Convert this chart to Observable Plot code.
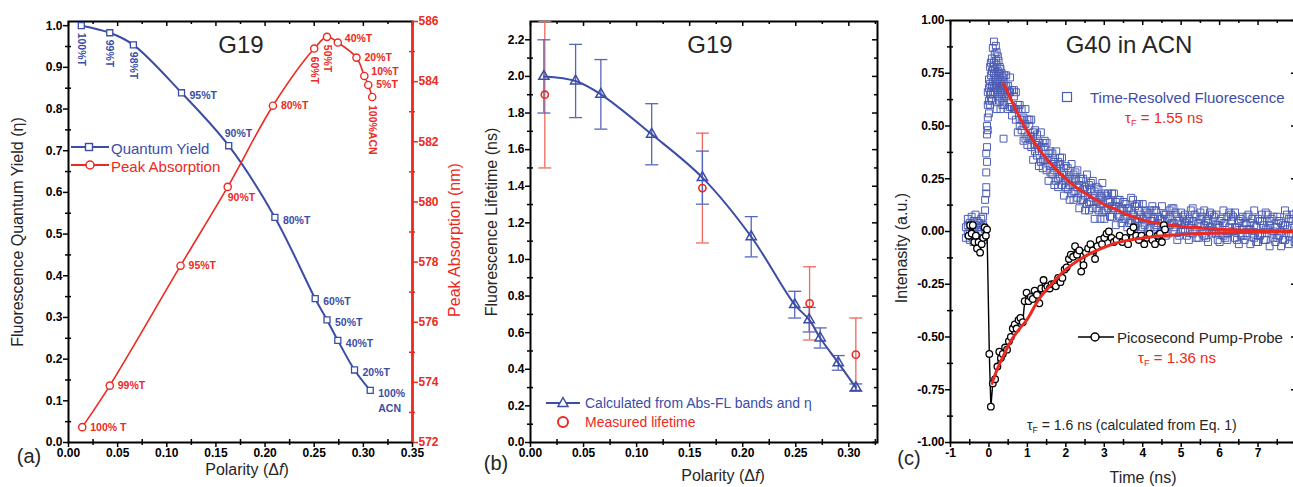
<!DOCTYPE html>
<html><head><meta charset="utf-8">
<script src="https://cdn.jsdelivr.net/npm/d3@7"></script>
<script src="https://cdn.jsdelivr.net/npm/@observablehq/plot@0.6"></script>
<style>
html,body{margin:0;padding:0;background:#fff;overflow:hidden;}
#wrap{position:relative;width:1293px;height:487px;overflow:hidden;font-family:"Liberation Sans",Arial,sans-serif;background:#fff;}
.panel{position:absolute;top:0;height:487px;}
.panel svg{position:absolute;left:0;top:0;max-width:none;}
.tx{position:absolute;white-space:nowrap;line-height:1;}
.tx sub{font-size:0.62em;vertical-align:-0.35em;line-height:0;}
</style></head>
<body><div id="wrap"></div>
<script>
// ---------------- DATA ----------------
// Panel (a): G19 quantum yield vs polarity
const qyPolarity = [0.013, 0.042, 0.066, 0.115, 0.163, 0.210, 0.251, 0.263, 0.274, 0.291, 0.307];
const qyValue    = [1.000, 0.983, 0.954, 0.839, 0.712, 0.540, 0.345, 0.294, 0.245, 0.174, 0.125];
const qyLabel    = ["100%T","99%T","98%T","95%T","90%T","80%T","60%T","50%T","40%T","20%T","100%\nACN"];
const qyLabelPos = ["rot","rot","rot","right","above","right","right","right","right","right","right"];
// Panel (a): peak absorption (nm)
const absPolarity = [0.014, 0.042, 0.114, 0.162, 0.208, 0.250, 0.263, 0.274, 0.293, 0.301, 0.305, 0.309];
const absPeak     = [572.51, 573.89, 577.88, 580.50, 583.20, 585.10, 585.49, 585.30, 584.80, 584.19, 583.89, 583.49];
const absLabel    = ["100% T","99%T","95%T","90%T","80%T","60%T","50%T","40%T","20%T","10%T","5%T","100%ACN"];
const absLabelPos = ["right","right","right","below","right","rot","rot","rightUp","right","rightUp","right","rot"];
// Panel (b): lifetimes
const calcPolarity = [0.0126, 0.0425, 0.0663, 0.1142, 0.162, 0.208, 0.249, 0.2626, 0.273, 0.290, 0.3066];
const calcLifetime = [2.000, 1.975, 1.902, 1.684, 1.447, 1.124, 0.753, 0.671, 0.571, 0.435, 0.300];
const calcError    = [0.200, 0.200, 0.190, 0.167, 0.145, 0.110, 0.073, 0.067, 0.055, 0.040, 0.020];
const measPolarity = [0.0135, 0.162, 0.263, 0.3066];
const measLifetime = [1.90, 1.39, 0.76, 0.48];
const measError    = [0.40, 0.30, 0.20, 0.20];
// Panel (c): time-resolved fluorescence (time, several readings)
const tfBins = [
[-0.60,0.02,-0.03],[-0.55,0.06,-0.01,0.03],[-0.50,-0.04,0.04,0.00],[-0.45,0.07,-0.02,0.02],
[-0.40,0.01,-0.05,0.05],[-0.35,0.03,-0.02,0.08],[-0.30,-0.06,0.02,0.05],[-0.25,0.04,-0.03,0.00],
[-0.20,0.06,-0.01,0.02],[-0.15,-0.04,0.03,0.07],[-0.10,0.01,0.10,0.15],[-0.07,0.21,0.28,0.37,0.18],
[-0.05,0.33,0.40,0.46,0.50],[-0.03,0.54,0.60,0.48,0.66],[0.00,0.68,0.72,0.62,0.56],[0.03,0.70,0.65,0.78,0.60],
[0.05,0.74,0.66,0.80,0.63],[0.08,0.82,0.69,0.76,0.62],[0.10,0.78,0.87,0.71,0.65],[0.13,0.75,0.90,0.68,0.80],
[0.15,0.84,0.72,0.66,0.77],[0.18,0.88,0.74,0.69,0.81],[0.20,0.79,0.70,0.85,0.58],[0.23,0.76,0.67,0.83,0.72],
[0.25,0.81,0.71,0.64,0.75],[0.28,0.74,0.68,0.78,0.62],[0.30,0.72,0.66,0.77,0.58],[0.33,0.70,0.63,0.75,0.68],
[0.35,0.73,0.65,0.60,0.69],[0.38,0.67,0.62,0.71,0.44],[0.40,0.69,0.64,0.74,0.60],
[0.45,0.74,0.64,0.69],[0.50,0.58,0.69,0.65],[0.55,0.66,0.73,0.59],[0.60,0.59,0.67,0.55],
[0.65,0.67,0.58,0.64],[0.70,0.53,0.58,0.66],[0.75,0.60,0.47,0.58],[0.80,0.53,0.60,0.50],
[0.85,0.58,0.48,0.53],[0.90,0.43,0.54,0.50],[0.95,0.51,0.58,0.44],[1.00,0.45,0.53,0.41],
[1.05,0.53,0.44,0.50],[1.10,0.40,0.45,0.53],[1.15,0.47,0.34,0.45],[1.20,0.41,0.48,0.38],
[1.25,0.46,0.36,0.41],[1.30,0.31,0.42,0.38],[1.35,0.40,0.47,0.33],[1.40,0.34,0.42,0.30],
[1.45,0.43,0.34,0.40],[1.50,0.29,0.34,0.42],[1.55,0.37,0.24,0.35],[1.60,0.31,0.38,0.28],
[1.65,0.37,0.27,0.32],[1.70,0.22,0.33,0.29],[1.75,0.31,0.38,0.24],[1.80,0.25,0.33,0.21],
[1.85,0.35,0.26,0.32],[1.90,0.22,0.27,0.35],[1.95,0.30,0.17,0.28],[2.00,0.24,0.31,0.21],
[2.05,0.30,0.20,0.25],[2.10,0.15,0.26,0.22],[2.15,0.25,0.32,0.18],[2.20,0.19,0.27,0.15],
[2.25,0.28,0.19,0.25],[2.30,0.16,0.21,0.29],[2.35,0.24,0.11,0.22],[2.40,0.18,0.25,0.15],
[2.45,0.25,0.15,0.20],[2.50,0.10,0.21,0.17],[2.55,0.20,0.27,0.13],[2.60,0.14,0.22,0.10],
[2.65,0.23,0.14,0.20],[2.70,0.11,0.16,0.24],[2.75,0.19,0.06,0.17],[2.80,0.14,0.21,0.11],
[2.85,0.20,0.10,0.15],[2.90,0.06,0.17,0.13],[2.95,0.16,0.23,0.09],[3.00,0.10,0.18,0.06],
[3.1,0.18,0.11,0.15],[3.2,0.07,0.12,0.18],[3.3,0.14,0.03,0.12],[3.4,0.10,0.15,0.07],
[3.5,0.14,0.06,0.10],[3.6,0.02,0.11,0.08],[3.7,0.10,0.16,0.04],[3.8,0.05,0.12,0.02],
[3.9,0.13,0.06,0.10],[4.0,0.02,0.06,0.13],[4.1,0.09,-0.02,0.07],[4.2,0.05,0.10,0.02],
[4.3,0.10,0.02,0.06],[4.4,-0.02,0.07,0.04],[4.5,0.06,0.12,0.00],[4.6,0.02,0.08,-0.02],
[4.7,0.10,0.03,0.07],[4.8,0.00,0.04,0.11],[4.9,0.07,-0.04,0.05],[5.0,0.03,0.09,0.00],
[5.1,0.08,0.00,0.04],[5.2,-0.04,0.06,0.03],[5.3,0.05,0.11,-0.01],[5.4,0.00,0.07,-0.03],
[5.5,0.09,0.02,0.06],[5.6,-0.02,0.03,0.10],[5.7,0.06,-0.05,0.04],[5.8,0.02,0.08,-0.01],
[5.9,0.08,-0.01,0.03],[6.0,-0.05,0.05,0.02],[6.1,0.04,0.10,-0.02],[6.2,-0.01,0.07,-0.04],
[6.3,0.08,0.00,0.05],[6.4,-0.03,0.02,0.09],[6.5,0.05,-0.06,0.04],[6.6,0.01,0.07,-0.02],
[6.7,0.07,-0.02,0.03],[6.8,-0.06,0.04,0.01],[6.9,0.03,0.10,-0.03],[7.0,-0.02,0.06,-0.05],
[7.1,0.08,-0.01,0.05],[7.2,-0.04,0.01,0.09],[7.3,0.05,-0.07,0.03],[7.4,0.00,0.07,-0.03],
[7.5,0.07,-0.03,0.02],[7.6,-0.07,0.04,0.00],[7.7,0.03,0.10,-0.04],[7.8,-0.02,0.06,-0.06],
[7.9,0.08,-0.01,0.05],[8.0,-0.04,0.01,0.09],
[3.05,0.17,0.10],[3.15,0.07,0.14],[3.25,0.18,0.11],[3.35,0.08,0.15],[3.45,0.11,0.04],
[3.55,0.13,0.06],[3.65,0.04,0.11],[3.75,0.15,0.08],[3.85,0.06,0.13],[3.95,0.08,0.01],
[4.05,0.10,0.03],[4.15,0.01,0.08],[4.25,0.12,0.05],[4.35,0.03,0.10],[4.45,0.06,-0.01],
[4.55,0.08,0.01],[4.65,-0.01,0.06],[4.75,0.11,0.04],[4.85,0.02,0.09],[4.95,0.05,-0.02],
[5.05,0.07,0.00],[5.15,-0.02,0.05],[5.25,0.10,0.03],[5.35,0.01,0.08],[5.45,0.04,-0.03],
[5.55,0.07,-0.01],[5.65,-0.03,0.05],[5.75,0.09,0.02],[5.85,0.00,0.07],[5.95,0.03,-0.04],
[6.05,0.06,-0.01],[6.15,-0.03,0.04],[6.25,0.09,0.02],[6.35,0.00,0.07],[6.45,0.02,-0.04],
[6.55,0.06,-0.02],[6.65,-0.04,0.04],[6.75,0.08,0.01],[6.85,-0.01,0.06],[6.95,0.02,-0.05],
[7.05,0.05,-0.02],[7.15,-0.04,0.03],[7.25,0.08,0.01],[7.35,-0.01,0.06],[7.45,0.02,-0.05],
[7.55,0.05,-0.02],[7.65,-0.04,0.03],[7.75,0.08,0.01],[7.85,-0.01,0.06],[7.95,0.02,-0.05]
];
const tfFitTime = [0.38,0.5,0.6,0.8,1.0,1.2,1.4,1.6,1.8,2.0,2.2,2.4,2.6,2.8,3.0,3.3,3.6,3.9,4.2,4.6,5.0,5.5,6.0,6.5,7.0,7.5,8.0];
const tfFitVal  = [0.70,0.656,0.615,0.541,0.475,0.418,0.367,0.323,0.284,0.249,0.219,0.193,0.170,0.149,0.127,0.105,0.080,0.060,0.045,0.033,0.024,0.017,0.011,0.007,0.005,0.003,0.002];
// picosecond pump-probe
const ppTime = [-0.53,-0.49,-0.45,-0.42,-0.38,-0.34,-0.31,-0.27,-0.23,-0.19,-0.15,-0.11,-0.08,-0.05,0.01,0.05,0.10,0.16,0.22,0.27,0.31,0.36,0.42,0.47,0.52,0.57,0.62,0.67,0.72,0.77,0.82,0.88,0.93,0.98,1.03,1.09,1.14,1.19,1.25,1.31,1.36,1.42,1.47,1.52,1.58,1.63,1.69,1.74,1.80,1.86,1.91,1.97,2.02,2.08,2.13,2.19,2.24,2.29,2.35,2.40,2.46,2.52,2.58,2.64,2.70,2.76,2.82,2.88,2.94,3.00,3.06,3.12,3.19,3.25,3.32,3.40,3.47,3.55,3.62,3.68,3.76,3.83,3.90,3.97,4.04,4.11,4.18,4.25,4.32,4.39,4.45,4.50,4.55,4.58];
const ppSignal = [-0.02,0.03,-0.01,0.03,-0.05,-0.02,-0.08,-0.05,-0.10,-0.06,-0.03,0.02,-0.02,0.01,-0.58,-0.83,-0.72,-0.70,-0.64,-0.57,-0.60,-0.58,-0.55,-0.56,-0.52,-0.50,-0.46,-0.44,-0.46,-0.42,-0.41,-0.43,-0.33,-0.29,-0.33,-0.31,-0.32,-0.28,-0.30,-0.34,-0.27,-0.23,-0.27,-0.26,-0.27,-0.25,-0.25,-0.26,-0.22,-0.24,-0.22,-0.18,-0.17,-0.13,-0.11,-0.12,-0.07,-0.11,-0.09,-0.19,-0.16,-0.10,-0.08,-0.06,-0.09,-0.13,-0.07,-0.04,-0.06,-0.03,-0.01,0.00,-0.03,-0.05,-0.04,-0.02,-0.05,-0.03,-0.06,0.00,0.02,-0.02,-0.04,-0.02,-0.06,-0.03,-0.01,-0.04,-0.06,-0.02,-0.01,-0.05,0.03,0.01];
const ppFitTime = [0.08,0.2,0.4,0.6,0.8,1.0,1.3,1.6,2.0,2.3,2.63,3.0,3.24,3.6,4.1,4.6,5.0,5.5,6.0,6.5,7.0,7.5,8.0];
const ppFitVal  = [-0.72,-0.66,-0.58,-0.51,-0.46,-0.415,-0.32,-0.255,-0.18,-0.14,-0.105,-0.075,-0.058,-0.042,-0.028,-0.019,-0.014,-0.010,-0.007,-0.005,-0.003,-0.002,-0.001];

// tick values
const aXMaj = [0,0.05,0.10,0.15,0.20,0.25,0.30,0.35], aXMin = [0.025,0.075,0.125,0.175,0.225,0.275,0.325];
const aYMaj = [0,0.1,0.2,0.3,0.4,0.5,0.6,0.7,0.8,0.9,1.0], aYMin = [0.05,0.15,0.25,0.35,0.45,0.55,0.65,0.75,0.85,0.95];
const aRMaj = [572,574,576,578,580,582,584,586], aRMin = [573,575,577,579,581,583,585];
const bXMaj = [0,0.05,0.10,0.15,0.20,0.25,0.30], bXMin = [0.025,0.075,0.125,0.175,0.225,0.275,0.325];
const bYMaj = [0,0.2,0.4,0.6,0.8,1.0,1.2,1.4,1.6,1.8,2.0,2.2], bYMin = [0.1,0.3,0.5,0.7,0.9,1.1,1.3,1.5,1.7,1.9,2.1];
const cXMaj = [-1,0,1,2,3,4,5,6,7], cXMin = [-0.5,0.5,1.5,2.5,3.5,4.5,5.5,6.5,7.5];
const cYMaj = [-1,-0.75,-0.5,-0.25,0,0.25,0.5,0.75,1], cYMin = [-0.875,-0.625,-0.375,-0.125,0.125,0.375,0.625,0.875];

// ---------------- STYLE ----------------
const BLUE = "#3b4da6", RED = "#ec2a22", EBLUE = "#5566bb", ERED = "#f0675f", INK = "#262626";
const FONT = '"Liberation Sans", Arial, Helvetica, sans-serif';
const baseStyle = {fontFamily: FONT, fontSize: "12px", fontWeight: "bold", background: "transparent", overflow: "visible", color: "#000"};
const wrap = document.getElementById("wrap");

function panel(left, width, svgs) {
  const d = document.createElement("div");
  d.className = "panel"; d.style.left = left + "px"; d.style.width = width + "px";
  svgs.forEach(s => d.appendChild(s));
  wrap.appendChild(d);
}
function txt(html, x, y, {size = 15, color = INK, rotate = 0, anchor = "middle", weight = "normal"} = {}) {
  const e = document.createElement("div");
  e.className = "tx"; e.innerHTML = html;
  e.style.left = x + "px"; e.style.top = y + "px"; e.style.fontSize = size + "px";
  e.style.color = color; e.style.fontWeight = weight;
  const tr = anchor === "middle" ? "translate(-50%,-50%)" : "translate(0,-50%)";
  e.style.transform = tr + (rotate ? ` rotate(${rotate}deg)` : "");
  wrap.appendChild(e);
}
function swatch(svgInner, x, y, w, h) {
  const e = document.createElement("div");
  e.className = "tx"; e.style.left = x + "px"; e.style.top = y + "px";
  e.innerHTML = `<svg width="${w}" height="${h}" style="display:block">${svgInner}</svg>`;
  wrap.appendChild(e);
}
function frameTicks({xMaj, xMin, yMaj, yMin, iw, ih, xFmt, yFmt, rightInward = true}) {
  const sw = 1.5;
  const m = [
    Plot.frame({stroke: "#000", strokeWidth: 2}),
    Plot.axisX({ticks: xMaj, tickSize: 5, tickPadding: 1, tickFormat: xFmt, label: null, strokeWidth: sw}),
    Plot.tickX(xMin, {x: d => d, insetTop: ih - 3, insetBottom: -3, strokeWidth: sw}),
    Plot.tickX(xMaj, {x: d => d, insetBottom: ih - 5, strokeWidth: sw}),
    Plot.tickX(xMin, {x: d => d, insetBottom: ih - 3, strokeWidth: sw}),
    Plot.axisY({ticks: yMaj, tickSize: 5, tickPadding: 1, tickFormat: yFmt, label: null, strokeWidth: sw}),
    Plot.tickY(yMin, {y: d => d, insetRight: iw - 3, insetLeft: -3, strokeWidth: sw})
  ];
  if (rightInward) m.push(
    Plot.tickY(yMaj, {y: d => d, insetLeft: iw - 5, strokeWidth: sw}),
    Plot.tickY(yMin, {y: d => d, insetLeft: iw - 3, strokeWidth: sw}));
  return m;
}

// ---------------- PANEL (a) ----------------
{
  const W = 470, H = 487, mL = 68, mR = 58, mT = 21, mB = 45, iw = W - mL - mR, ih = H - mT - mB;
  const qy = qyPolarity.map((x, i) => ({x, y: qyValue[i], label: qyLabel[i], pos: qyLabelPos[i]}));
  const ab = absPolarity.map((x, i) => ({x, y: absPeak[i], label: absLabel[i], pos: absLabelPos[i]}));
  const lab = {fontSize: 10.5, fontWeight: "bold"};
  const blue = Plot.plot({
    width: W, height: H, marginLeft: mL, marginRight: mR, marginTop: mT, marginBottom: mB,
    x: {domain: [0, 0.35], axis: null}, y: {domain: [0, 1.01], axis: null}, style: baseStyle,
    marks: [
      ...frameTicks({xMaj: aXMaj, xMin: aXMin, yMaj: aYMaj, yMin: aYMin, iw, ih,
        xFmt: d => d.toFixed(2), yFmt: d => d.toFixed(1), rightInward: false}),
      Plot.line(qy, {x: "x", y: "y", stroke: BLUE, strokeWidth: 2, curve: "catmull-rom"}),
      Plot.dot(qy, {x: "x", y: "y", symbol: "square", r: 3.4, stroke: BLUE, fill: "white", strokeWidth: 1.3}),
      Plot.text(qy.filter(d => d.pos === "rot"), {x: "x", y: "y", text: "label", rotate: 90, textAnchor: "start", dy: 7, fill: BLUE, ...lab}),
      Plot.text(qy.filter(d => d.pos === "right"), {x: "x", y: "y", text: "label", textAnchor: "start", dx: 8, lineAnchor: "top", dy: -5, lineHeight: 1.5, fill: BLUE, ...lab}),
      Plot.text(qy.filter(d => d.pos === "above"), {x: "x", y: "y", text: "label", textAnchor: "start", dx: -4, dy: -12, fill: BLUE, ...lab})
    ]
  });
  const red = Plot.plot({
    width: W, height: H, marginLeft: mL, marginRight: mR, marginTop: mT, marginBottom: mB,
    x: {domain: [0, 0.35], axis: null}, y: {domain: [572, 586], axis: null}, style: baseStyle,
    marks: [
      Plot.ruleX([0.35], {stroke: RED, strokeWidth: 2}),
      Plot.axisY({anchor: "right", ticks: aRMaj, tickSize: 5, tickPadding: 1, tickFormat: d => String(d), label: null, color: RED, strokeWidth: 1.5}),
      Plot.tickY(aRMin, {y: d => d, insetLeft: iw - 3, insetRight: -3, stroke: RED, strokeWidth: 1.5}),
      Plot.line(ab, {x: "x", y: "y", stroke: RED, strokeWidth: 1.6, curve: "catmull-rom"}),
      Plot.dot(ab, {x: "x", y: "y", r: 3.6, stroke: RED, fill: "white", strokeWidth: 1.4}),
      Plot.text(ab.filter(d => d.pos === "rot"), {x: "x", y: "y", text: "label", rotate: 90, textAnchor: "start", dy: 8, fill: RED, ...lab}),
      Plot.text(ab.filter(d => d.pos === "right"), {x: "x", y: "y", text: "label", textAnchor: "start", dx: 8, fill: RED, ...lab}),
      Plot.text(ab.filter(d => d.pos === "rightUp"), {x: "x", y: "y", text: "label", textAnchor: "start", dx: 7, dy: -4, fill: RED, ...lab}),
      Plot.text(ab.filter(d => d.pos === "below"), {x: "x", y: "y", text: "label", textAnchor: "start", dx: 0, dy: 11, fill: RED, ...lab})
    ]
  });
  panel(0, W, [blue, red]);
  txt("G19", 241, 45, {size: 24, color: INK});
  txt("Fluorescence Quantum Yield (&eta;)", 18, 232, {size: 16, rotate: -90});
  txt("Peak Absorption (nm)", 455, 240, {size: 16, rotate: -90, color: RED});
  txt("Polarity (&Delta;<i>f</i>)", 247, 470, {size: 16});
  txt("(a)", 29, 456, {size: 20});
  swatch(`<line x1="1" y1="8" x2="39" y2="8" stroke="${BLUE}" stroke-width="2"/><rect x="15.5" y="4.5" width="7" height="7" fill="white" stroke="${BLUE}" stroke-width="1.4"/>`, 70, 139, 40, 16);
  swatch(`<line x1="1" y1="8" x2="39" y2="8" stroke="${RED}" stroke-width="2"/><circle cx="20" cy="8" r="4" fill="white" stroke="${RED}" stroke-width="1.5"/>`, 70, 157, 40, 16);
  txt("Quantum Yield", 111, 148, {size: 15, color: BLUE, anchor: "start"});
  txt("Peak Absorption", 111, 166, {size: 15, color: RED, anchor: "start"});
}

// ---------------- PANEL (b) ----------------
{
  const W = 420, H = 487, mL = 60, mR = 13, mT = 21, mB = 45, iw = W - mL - mR, ih = H - mT - mB;
  const calc = calcPolarity.map((x, i) => ({x, y: calcLifetime[i], lo: calcLifetime[i] - calcError[i], hi: calcLifetime[i] + calcError[i]}));
  const meas = measPolarity.map((x, i) => ({x, y: measLifetime[i], lo: measLifetime[i] - measError[i], hi: measLifetime[i] + measError[i]}));
  const cap = {draw(ctx) { ctx.moveTo(-6.5, 0); ctx.lineTo(6.5, 0); }};
  const p = Plot.plot({
    width: W, height: H, marginLeft: mL, marginRight: mR, marginTop: mT, marginBottom: mB,
    x: {domain: [0, 0.327], axis: null}, y: {domain: [0, 2.3], axis: null}, style: baseStyle,
    marks: [
      ...frameTicks({xMaj: bXMaj, xMin: bXMin, yMaj: bYMaj, yMin: bYMin, iw, ih,
        xFmt: d => d.toFixed(2), yFmt: d => d.toFixed(1)}),
      Plot.ruleX(meas, {x: "x", y1: "lo", y2: "hi", stroke: ERED, strokeWidth: 1.3}),
      Plot.dot(meas, {x: "x", y: "lo", symbol: cap, stroke: ERED, strokeWidth: 1.3}),
      Plot.dot(meas, {x: "x", y: "hi", symbol: cap, stroke: ERED, strokeWidth: 1.3}),
      Plot.ruleX(calc, {x: "x", y1: "lo", y2: "hi", stroke: EBLUE, strokeWidth: 1.3}),
      Plot.dot(calc, {x: "x", y: "lo", symbol: cap, stroke: EBLUE, strokeWidth: 1.3}),
      Plot.dot(calc, {x: "x", y: "hi", symbol: cap, stroke: EBLUE, strokeWidth: 1.3}),
      Plot.line(calc, {x: "x", y: "y", stroke: BLUE, strokeWidth: 2, curve: "catmull-rom"}),
      Plot.dot(calc, {x: "x", y: "y", symbol: "triangle", r: 3.8, stroke: BLUE, fill: "none", strokeWidth: 1.5}),
      Plot.dot(meas, {x: "x", y: "y", r: 3.6, stroke: RED, fill: "none", strokeWidth: 1.6})
    ]
  });
  panel(470, W, [p]);
  txt("G19", 710, 45, {size: 24, color: INK});
  txt("Fluorescence Lifetime (ns)", 492, 222, {size: 16, rotate: -90});
  txt("Polarity (&Delta;<i>f</i>)", 723, 476, {size: 16});
  txt("(b)", 496, 463, {size: 20});
  swatch(`<line x1="1" y1="9" x2="35" y2="9" stroke="${BLUE}" stroke-width="2"/><path d="M18,3.5 L23,12.5 L13,12.5 Z" fill="white" stroke="${BLUE}" stroke-width="1.5"/>`, 545, 394, 36, 18);
  swatch(`<circle cx="9" cy="9" r="5" fill="white" stroke="${RED}" stroke-width="2"/>`, 554, 413, 18, 18);
  txt("Calculated from Abs-FL bands and &eta;", 585, 403, {size: 14, color: BLUE, anchor: "start"});
  txt("Measured lifetime", 585, 422, {size: 14, color: RED, anchor: "start"});
}

// ---------------- PANEL (c) ----------------
{
  const W = 420, H = 487, mL = 50, mR = 24, mT = 20, mB = 45, iw = W - mL - mR, ih = H - mT - mB;
  const tf = tfBins.flatMap(r => r.slice(1).map(v => ({t: r[0], v})));
  const tfFit = tfFitTime.map((t, i) => ({t, v: tfFitVal[i]}));
  const pp = ppTime.map((t, i) => ({t, v: ppSignal[i]}));
  const ppFit = ppFitTime.map((t, i) => ({t, v: ppFitVal[i]}));
  const p = Plot.plot({
    width: W, height: H, marginLeft: mL, marginRight: mR, marginTop: mT, marginBottom: mB,
    x: {domain: [-1, 8], axis: null}, y: {domain: [-1, 1], axis: null}, style: baseStyle,
    marks: [
      ...frameTicks({xMaj: cXMaj, xMin: cXMin, yMaj: cYMaj, yMin: cYMin, iw, ih,
        xFmt: d => String(d), yFmt: d => d.toFixed(2)}),
      Plot.dot(tf, {x: "t", y: "v", symbol: "square", r: 3.9, stroke: "#4c5db5", fill: "none", strokeWidth: 1, clip: true}),
      Plot.line(tfFit, {x: "t", y: "v", stroke: RED, strokeWidth: 3, curve: "catmull-rom", clip: true}),
      Plot.line(pp, {x: "t", y: "v", stroke: "#000", strokeWidth: 1.4}),
      Plot.dot(pp, {x: "t", y: "v", r: 3.3, stroke: "#000", fill: "white", strokeWidth: 1.3}),
      Plot.line(ppFit, {x: "t", y: "v", stroke: RED, strokeWidth: 3, curve: "catmull-rom", clip: true})
    ]
  });
  panel(900, W, [p]);
  txt("G40 in ACN", 1129, 45, {size: 24, color: INK});
  txt("Intenasity (a.u.)", 902, 248, {size: 16, rotate: -90});
  txt("Time (ns)", 1143, 478, {size: 16});
  txt("(c)", 909, 458, {size: 20});
  swatch(`<rect x="1.5" y="1.5" width="9" height="9" fill="white" stroke="#4c5db5" stroke-width="1.2"/>`, 1061, 91, 12, 12);
  txt("Time-Resolved Fluorescence", 1090, 97, {size: 15, color: BLUE, anchor: "start"});
  txt("&tau;<sub>F</sub> = 1.55 ns", 1125, 117, {size: 15, color: RED, anchor: "start"});
  swatch(`<line x1="0" y1="8" x2="36" y2="8" stroke="#000" stroke-width="1.5"/><circle cx="17" cy="8" r="4" fill="white" stroke="#000" stroke-width="1.5"/>`, 1078, 329, 36, 16);
  txt("Picosecond Pump-Probe", 1117, 337, {size: 15, color: INK, anchor: "start"});
  txt("&tau;<sub>F</sub> = 1.36 ns", 1138, 357, {size: 15, color: RED, anchor: "start"});
  txt("&tau;<sub>F</sub> = 1.6 ns (calculated from Eq. 1)", 1027, 425, {size: 14, color: INK, anchor: "start"});
}
</script></body></html>
